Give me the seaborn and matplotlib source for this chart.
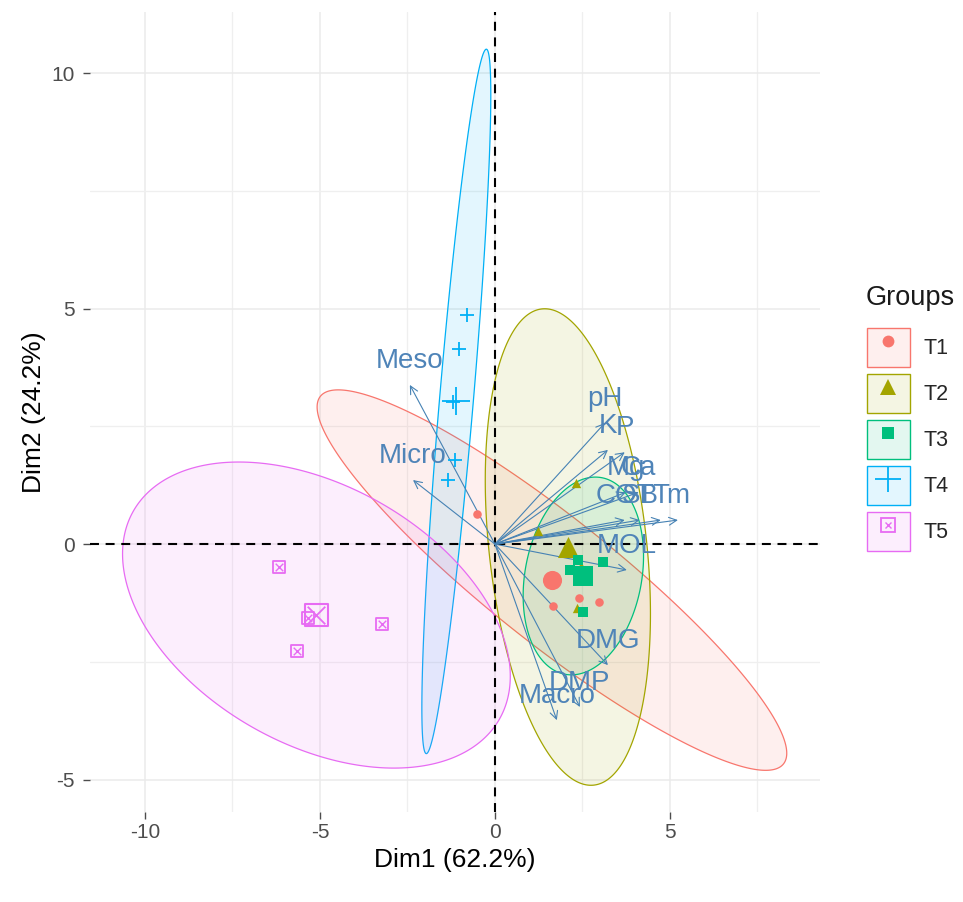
import numpy as np
import matplotlib
matplotlib.use("Agg")
import matplotlib.pyplot as plt
import seaborn as sns
from matplotlib.patches import Patch
from matplotlib.lines import Line2D
from matplotlib.legend_handler import HandlerTuple
from matplotlib.colors import to_rgba

# ---- groups -------------------------------------------------------------
groups = ["T1", "T2", "T3", "T4", "T5"]
group_colors = ["#F8766D", "#A3A500", "#00BF7D", "#00B0F6", "#E76BF3"]

# ---- individual scores (Dim1, Dim2) per group --------------------------
t1_dim1 = [-0.51, 2.40, 2.97, 1.66]
t1_dim2 = [0.64, -1.15, -1.23, -1.32]
t2_dim1 = [2.31, 1.23, 2.34, 2.46]
t2_dim2 = [1.30, 0.28, -1.36, -0.47]
t3_dim1 = [3.09, 2.37, 2.14, 2.51]
t3_dim2 = [-0.38, -0.34, -0.55, -1.44]
t4_dim1 = [-0.80, -1.03, -1.20, -1.14, -1.34]
t4_dim2 = [4.86, 4.14, 3.01, 1.78, 1.36]
t5_dim1 = [-6.17, -5.34, -3.23, -5.66]
t5_dim2 = [-0.49, -1.57, -1.70, -2.27]

# ---- concentration ellipses: half extent on each axis and correlation --
ell_half_dim1 = [6.71, 2.36, 1.72, 0.985, 5.54]
ell_half_dim2 = [4.04, 5.06, 2.10, 7.48, 3.25]
ell_corr = [-0.91, -0.28, 0.20, 0.87, -0.40]

# ---- variable loadings (arrows) ----------------------------------------
var_names = ["pH", "K", "P", "Mg", "Ca", "COT", "SB", "T", "m",
             "MOL", "DMG", "DMP", "Macro", "Meso", "Micro"]
var_dim1 = [3.14, 3.23, 3.71, 3.74, 4.11, 3.71, 4.14, 4.74, 5.23,
            3.77, 3.23, 2.43, 1.77, -2.43, -2.34]
var_dim2 = [2.57, 2.00, 1.95, 1.10, 1.10, 0.51, 0.51, 0.51, 0.51,
            -0.55, -2.57, -3.46, -3.74, 3.38, 1.36]

x_title = "Dim1 (62.2%)"
y_title = "Dim2 (24.2%)"
legend_title = "Groups"

group_dim1 = [t1_dim1, t2_dim1, t3_dim1, t4_dim1, t5_dim1]
group_dim2 = [t1_dim2, t2_dim2, t3_dim2, t4_dim2, t5_dim2]

sns.set_theme(style="whitegrid")
plt.rcParams["font.family"] = ["Liberation Sans", "DejaVu Sans"]
plt.rcParams["axes.unicode_minus"] = False

fig = plt.figure(figsize=(9.63, 9.02), dpi=100)
W, H = 963, 902
px_left, px_right, px_top, px_bottom = 90, 820, 12, 812
ax = fig.add_axes([px_left / W, 1 - px_bottom / H,
                   (px_right - px_left) / W, (px_bottom - px_top) / H])
ax.set_facecolor("white")
for s in ax.spines.values():
    s.set_visible(False)

# grid: major + minor lines
ax.set_xticks([-10, -5, 0, 5])
ax.set_yticks([-5, 0, 5, 10])
ax.set_xticks([-7.5, -2.5, 2.5, 7.5], minor=True)
ax.set_yticks([-2.5, 2.5, 7.5], minor=True)
ax.grid(True, which="major", color="#EBEBEB", linewidth=1.1)
ax.grid(True, which="minor", color="#EFEFEF", linewidth=0.9)
ax.set_axisbelow(True)

# ellipses
theta = np.linspace(0, 2 * np.pi, 361)
unit = np.vstack([np.cos(theta), np.sin(theta)])
for g, col, d1, d2, hx, hy, r in zip(groups, group_colors, group_dim1, group_dim2,
                                     ell_half_dim1, ell_half_dim2, ell_corr):
    cx, cy = np.mean(d1), np.mean(d2)
    cov = np.array([[hx * hx, r * hx * hy], [r * hx * hy, hy * hy]])
    L = np.linalg.cholesky(cov)
    pts = L @ unit
    ax.fill(cx + pts[0], cy + pts[1], facecolor=to_rgba(col, 0.11),
            edgecolor=col, linewidth=0.9, zorder=1)

# reference lines through the origin
ax.axhline(0, color="black", linestyle=(0, (4.3, 3.2)), linewidth=1.5, zorder=2)
ax.axvline(0, color="black", linestyle=(0, (4.3, 3.2)), linewidth=1.5, zorder=2)

# variable arrows and labels
var_color = "#4F84B8"
for name, vx, vy in zip(var_names, var_dim1, var_dim2):
    ax.annotate("", xy=(vx, vy), xytext=(0, 0),
                arrowprops=dict(arrowstyle="->", color="#4682B4", lw=0.8,
                                mutation_scale=14, shrinkA=0, shrinkB=0),
                zorder=3)
for name, vx, vy in zip(var_names, var_dim1, var_dim2):
    ax.annotate(name, xy=(vx, vy), xytext=(0, 17.5), textcoords="offset points",
                ha="center", va="center", fontsize=20, color=var_color, zorder=5)

# individuals and group means
filled_markers = ["o", "^", "s", "+"]
small_sizes = [38, 45, 42, 110]
mean_sizes = [190, 230, 200, 420]
for i in range(4):
    col = group_colors[i]
    m = filled_markers[i]
    lw = 1.3 if m == "+" else 0
    sns.scatterplot(x=group_dim1[i], y=group_dim2[i], color=col, marker=m,
                    s=small_sizes[i], linewidth=lw, ax=ax, legend=False, zorder=4)
    sns.scatterplot(x=[np.mean(group_dim1[i])], y=[np.mean(group_dim2[i])],
                    color=col, marker=m, s=mean_sizes[i], linewidth=lw,
                    ax=ax, legend=False, zorder=4)

# T5: square with a cross
c5 = group_colors[4]
x5, y5 = group_dim1[4], group_dim2[4]
mx5, my5 = [np.mean(x5)], [np.mean(y5)]
ax.scatter(x5, y5, marker="s", s=80, facecolors="none", edgecolors=c5, linewidths=1.3, zorder=4)
ax.scatter(x5, y5, marker="x", s=30, color=c5, linewidths=1.0, zorder=4)
ax.scatter(mx5, my5, marker="s", s=260, facecolors="none", edgecolors=c5, linewidths=1.5, zorder=4)
ax.scatter(mx5, my5, marker="x", s=160, color=c5, linewidths=1.3, zorder=4)

ax.set_xlim(-11.57, 9.29)
ax.set_ylim(-5.69, 11.3)

ax.tick_params(axis="both", which="major", labelsize=15, labelcolor="#4D4D4D",
               color="#4D4D4D", length=5, width=1, bottom=True, left=True)
ax.tick_params(axis="y", which="major", pad=6)
ax.tick_params(axis="x", which="major", pad=3)
ax.tick_params(axis="both", which="minor", length=0)
ax.set_xlabel(x_title, fontsize=19, color="black", labelpad=4)
ax.set_ylabel(y_title, fontsize=19, color="black", labelpad=4)

# legend: tinted key box with the group marker on top
markers_leg = ["o", "^", "s", "+"]
leg_sizes = [8.5, 11, 9, 19]
handles = []
for i, col in enumerate(group_colors):
    box = Patch(facecolor=to_rgba(col, 0.11), edgecolor=col, linewidth=1.0)
    if i < 4:
        mk = Line2D([], [], linestyle="", marker=markers_leg[i], color=col,
                    markersize=leg_sizes[i], markeredgewidth=1.3 if i == 3 else 0)
        handles.append((box, mk))
    else:
        sq = Line2D([], [], linestyle="", marker="s", markersize=10,
                    markerfacecolor="none", markeredgecolor=col, markeredgewidth=1.3)
        xx = Line2D([], [], linestyle="", marker="x", markersize=5,
                    color=col, markeredgewidth=1.0)
        handles.append((box, sq, xx))
leg = fig.legend(handles, groups, loc="upper left",
                 bbox_to_anchor=(856 / W, 1 - 317 / H), frameon=False,
                 handler_map={tuple: HandlerTuple(ndivide=1, pad=0)},
                 fontsize=15.5, handlelength=2.0,
                 handleheight=2.45, labelspacing=0.3, handletextpad=0.65,
                 borderpad=0)
fig.text(866 / W, 1 - 298 / H, legend_title, fontsize=19.5, ha="left", va="center",
         color="#1A1A1A")

fig.savefig("out.png", dpi=100)
